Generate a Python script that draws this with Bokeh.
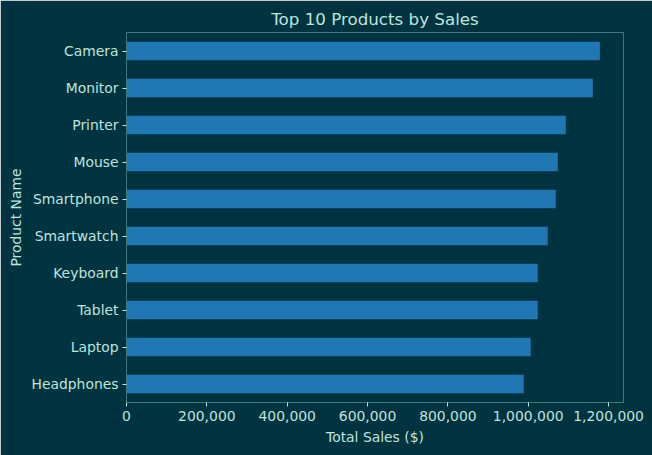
from bokeh.plotting import figure
from bokeh.models import Range1d, FactorRange, NumeralTickFormatter, FixedTicker
from bokeh.embed import file_html
from bokeh.resources import INLINE

# Top products by total sales (bottom to top)
products = ["Headphones", "Laptop", "Tablet", "Keyboard", "Smartwatch",
            "Smartphone", "Mouse", "Printer", "Monitor", "Camera"]
total_sales = [988800, 1006200, 1023700, 1023700, 1048600,
               1068600, 1073600, 1093500, 1160800, 1178300]
x_ticks = [0, 200000, 400000, 600000, 800000, 1000000, 1200000]

BG = "#003340"
BAR = "#1f77b4"
TEXT = "#bde5dc"
SPINE = "#3f7878"
FONT = "DejaVu Sans"

p = figure(
    width=652, height=455,
    y_range=FactorRange(factors=products, range_padding=0),
    x_range=Range1d(0, max(total_sales) * 1.05),
    output_backend="svg", toolbar_location=None,
    min_border_left=126, min_border_right=29,
    min_border_top=32, min_border_bottom=53,
    background_fill_color=BG, border_fill_color=BG,
    title="Top 10 Products by Sales",
)

p.hbar(y=products, right=total_sales, left=0, height=0.5,
       fill_color=BAR, line_color=None)

p.title.align = "center"
p.title.text_color = TEXT
p.title.text_font = FONT
p.title.text_font_size = "16.7px"
p.title.text_font_style = "normal"
p.title.offset = 0
p.title.standoff = 7

p.outline_line_color = SPINE
p.outline_line_width = 1
p.xgrid.visible = False
p.ygrid.visible = False

for ax in (p.xaxis[0], p.yaxis[0]):
    ax.axis_line_color = SPINE
    ax.major_tick_line_color = TEXT
    ax.major_tick_out = 4
    ax.major_tick_in = 0
    ax.minor_tick_line_color = None
    ax.major_label_text_color = TEXT
    ax.major_label_text_font = FONT
    ax.major_label_text_font_size = "13.9px"
    ax.axis_label_text_color = TEXT
    ax.axis_label_text_font = FONT
    ax.axis_label_text_font_size = "13.9px"
    ax.axis_label_text_font_style = "normal"

p.xaxis.ticker = FixedTicker(ticks=x_ticks)
p.xaxis.formatter = NumeralTickFormatter(format="0,0")
p.xaxis.axis_label = "Total Sales ($)"
p.xaxis.major_label_standoff = 4
p.xaxis.axis_label_standoff = 5
p.yaxis.axis_label = "Product Name"
p.yaxis.major_label_standoff = 4
p.yaxis.axis_label_standoff = 4

open("out.html", "w").write(file_html(p, INLINE))
